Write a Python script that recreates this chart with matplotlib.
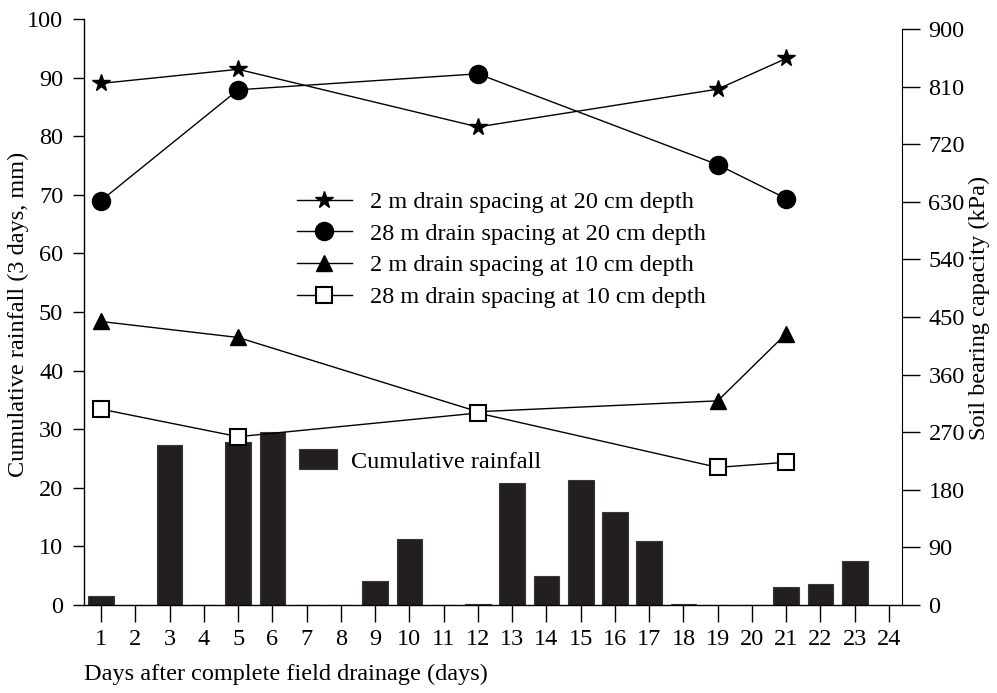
import matplotlib
matplotlib.use("Agg")
import matplotlib.pyplot as plt
import numpy as np

plt.rcParams['font.family'] = ['Liberation Serif', 'DejaVu Serif']

days = list(range(1, 25))
rainfall = [1.6, 0, 27.3, 0, 27.8, 29.6, 0, 0, 4.1, 11.2, 0, 0.2,
            20.9, 4.9, 21.4, 15.8, 11.0, 0.2, 0, 0, 3.0, 3.6, 7.5, 0]

meas_days = [1, 5, 12, 19, 21]
s2_20 = [815, 837, 747, 806, 854]
s28_20 = [632, 805, 830, 688, 635]
s2_10 = [443, 418, 302, 319, 424]
s28_10 = [306, 263, 300, 215, 223]

left_ticks = list(range(0, 101, 10))
right_ticks = list(range(0, 901, 90))

FS = 17.5
fig = plt.figure(figsize=(9.97, 6.93), dpi=100)
ax = fig.add_axes([84/997, 1-605/693, (902-84)/997, (605-19)/693])
ax2 = ax.twinx()

bar_c = '#231f20'
ax.bar(days, rainfall, width=0.75, color=bar_c, edgecolor='#3a3637', linewidth=0.8,
       label='Cumulative rainfall', zorder=2)
ax.set_xlim(0.5, 24.38)
ax.set_ylim(0, 100)
ax.set_yticks(left_ticks)
ax.set_xticks(days)
ax.tick_params(axis='y', direction='out', length=8, width=1, labelsize=FS, pad=7)
ax.tick_params(axis='x', direction='out', length=12, width=1, labelsize=FS, pad=5)
for s in ['top', 'right']:
    ax.spines[s].set_visible(False)
ax.spines['left'].set_linewidth(1)
ax.spines['bottom'].set_linewidth(1)

ax2.set_ylim(0, 900 * 586 / 576)
ax2.set_yticks(right_ticks)
ax2.spines['right'].set_bounds(0, 900)
for s in ['top', 'left', 'bottom']:
    ax2.spines[s].set_visible(False)
ax2.tick_params(axis='y', direction='out', length=13, width=1, labelsize=FS, pad=6)

lw = 1.0
ax2.plot(meas_days, s2_20, color='k', lw=lw, marker='*', ms=13, mfc='k', mec='k',
         label='2 m drain spacing at 20 cm depth')
ax2.plot(meas_days, s28_20, color='k', lw=lw, marker='o', ms=13, mfc='k', mec='k',
         label='28 m drain spacing at 20 cm depth')
ax2.plot(meas_days, s2_10, color='k', lw=lw, marker='^', ms=12, mfc='k', mec='k',
         label='2 m drain spacing at 10 cm depth')
ax2.plot(meas_days, s28_10, color='k', lw=lw, marker='s', ms=11, mfc='white', mec='k',
         mew=1.5, label='28 m drain spacing at 10 cm depth')

leg1 = ax2.legend(loc='upper left', bbox_to_anchor=(297/997, 1 - 191/693),
                  bbox_transform=fig.transFigure, frameon=False, fontsize=FS,
                  numpoints=1, handlelength=2.26, handletextpad=0.74,
                  labelspacing=0.4, borderpad=0, borderaxespad=0)

leg2 = ax.legend(loc='center left', bbox_to_anchor=(298.7/997, 1 - 461/693),
                 bbox_transform=fig.transFigure, frameon=False, fontsize=FS,
                 handlelength=1.56, handleheight=0.86, handletextpad=0.58,
                 borderpad=0, borderaxespad=0)

fig.text(18/997, 1 - 314/693, 'Cumulative rainfall (3 days, mm)', fontsize=FS,
         rotation=90, ha='center', va='center')
fig.text(979/997, 1 - 308/693, 'Soil bearing capacity (kPa)', fontsize=FS,
         rotation=90, ha='center', va='center')
fig.text(84/997, 1 - 674/693, 'Days after complete field drainage (days)',
         fontsize=FS, ha='left', va='center')

fig.savefig('out.png', dpi=100)
